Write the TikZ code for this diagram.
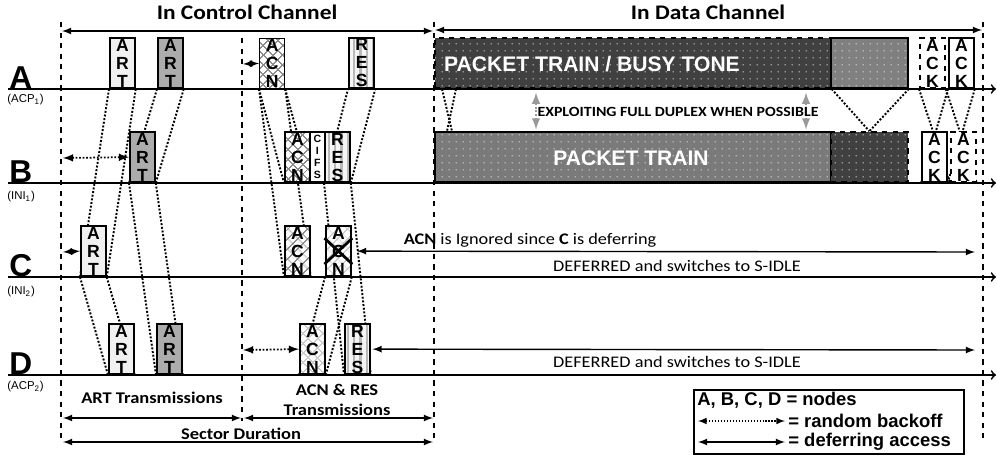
\documentclass[tikz,border=0pt]{standalone}
\usepackage{fontspec}
\setmainfont{Liberation Sans}
\newfontfamily\calibri[FakeStretch=1.13]{Carlito}
\usetikzlibrary{patterns.meta, backgrounds, calc}

\begin{document}
\begin{tikzpicture}[
    x=0.02cm, y=-0.02cm,
    slotbox/.style={draw, line width=1pt, minimum width=0.5cm, minimum height=1cm, inner sep=0pt,
        anchor=south west, align=center, font=\fontsize{10}{10.2}\selectfont\bfseries},
    artlight/.style={slotbox, fill=gray!12},
    artdark/.style={slotbox, fill=gray!65},
    acn/.style={slotbox, preaction={fill=white}, pattern={Hatch[angle=45, distance=4pt, line width=.7pt]}, pattern color=#1},
    acn/.default=gray!90,
    res/.style={slotbox, preaction={fill=gray!8}, pattern={Lines[angle=90, distance=3.6pt, line width=1.3pt]}, pattern color=gray!55},
    cifs/.style={slotbox, fill=white, minimum width=0.3cm, font=\fontsize{6}{6.8}\selectfont\bfseries},
    ack/.style={slotbox, fill=white},
    train/.style={draw, line width=1pt, inner sep=0pt, anchor=south west, minimum height=1cm,
        preaction={fill=#1}, pattern={Dots[distance=4pt, radius=.45pt]}, pattern color=white!85!gray},
    timeline/.style={line width=1pt, -to},
    sector/.style={dashed, line width=1pt},
    prop/.style={densely dotted, line width=1.1pt},
    backoff/.style={latex-latex, densely dotted, line width=1pt},
    defer/.style={latex-latex, line width=.8pt},
    duplex/.style={latex-latex, densely dotted, line width=1.2pt, gray!80},
    nodename/.style={font=\fontsize{18}{18}\selectfont\bfseries, inner sep=0pt, anchor=base west},
    role/.style={font=\fontsize{6.5}{7}\selectfont, inner sep=0pt, anchor=west},
    head/.style={font=\calibri\fontsize{11.8}{13}\selectfont\bfseries},
    span/.style={font=\calibri\fontsize{9.3}{11}\selectfont\bfseries},
    note/.style={font=\calibri\fontsize{9.2}{11}\selectfont},
    legendtxt/.style={font=\fontsize{10.5}{12}\selectfont\bfseries, inner sep=0pt, anchor=west}
]
    \useasboundingbox (0,0) rectangle (997,457);

    % --- CHANNEL HEADINGS ---
    \node[head] (ctl-title) at (247,12) {In Control Channel};
    \node[head] (data-title) at (708,12) {In Data Channel};
    \coordinate (ctl-l) at (62,31);
    \coordinate (ctl-r) at (433,31);
    \coordinate (data-l) at (435,30);
    \coordinate (data-r) at (982,30);
    \draw[defer] (ctl-l) -- (ctl-r);
    \draw[defer] (data-l) -- (data-r);

    % --- SECTOR BOUNDARIES ---
    \draw[sector] (61,22) -- (61,441);
    \draw[sector] (242,38) -- (242,421);
    \draw[sector] (434,22) -- (434,443);
    \draw[sector] (983,22) -- (983,440);

    % --- TIMELINES ---
    \foreach \r/\y in {A/89, B/183, C/277, D/375} {
        \coordinate (\r-start) at (8,\y);
        \coordinate (\r-end) at (996,\y);
        \draw[timeline] (\r-start) -- (\r-end);
    }
    \node[nodename] (A-name) at (9,88) {A};
    \node[nodename] (B-name) at (9,182) {B};
    \node[nodename] (C-name) at (9,276) {C};
    \node[nodename] (D-name) at (9,374) {D};
    \node[role] (A-role) at (7,100) {(ACP\textsubscript{1})};
    \node[role] (B-role) at (7,197) {(INI\textsubscript{1})};
    \node[role] (C-role) at (7,292) {(INI\textsubscript{2})};
    \node[role] (D-role) at (7,387) {(ACP\textsubscript{2})};

    % --- CONTROL CHANNEL FRAMES ---
    \node[artlight] (A-art1) at (109,89) {A\\R\\T};
    \node[artdark] (A-art2) at (157,89) {A\\R\\T};
    \node[acn] (A-acn) at (259,89) {A\\C\\N};
    \node[res] (A-res) at (348,89) {R\\E\\S};

    \node[artdark] (B-art) at (129,183) {A\\R\\T};
    \node[acn] (B-acn) at (284,183) {A\\C\\N};
    \node[cifs] (B-cifs) at (309,183) {C\\I\\F\\S};
    \node[res] (B-res) at (324,183) {R\\E\\S};

    \node[artlight] (C-art) at (80,277) {A\\R\\T};
    \node[acn] (C-acn) at (284,277) {A\\C\\N};
    \node[acn=gray!40] (C-acnx) at (325,277) {A\\C\\N};
    \draw[line width=1.6pt] (C-acnx.center) ++(-14,-13) -- ++(28,26)
        (C-acnx.center) ++(-14,13) -- ++(28,-26);

    \node[artlight] (D-art1) at (108,375) {A\\R\\T};
    \node[artdark] (D-art2) at (156,375) {A\\R\\T};
    \node[acn=gray!40] (D-acn) at (299,375) {A\\C\\N};
    \node[res] (D-res) at (344,375) {R\\E\\S};

    % --- DATA CHANNEL ---
    \node[train=black!75, dashed, minimum width=7.92cm] (A-train) at (434,89) {};
    \node[train=black!50, minimum width=1.54cm] (A-tail) at (830,89) {};
    \node[train=black!52, minimum width=7.92cm] (B-train) at (434,183) {};
    \node[train=black!75, dashed, minimum width=1.54cm] (B-tail) at (830,183) {};
    \node[font=\fontsize{12}{12}\selectfont\bfseries, text=white] (A-train-txt) at (592,64) {PACKET TRAIN / BUSY TONE};
    \node[font=\fontsize{12}{12}\selectfont\bfseries, text=white] (B-train-txt) at (631,158) {PACKET TRAIN};

    \node[ack, dashed] (A-ack1) at (919,89) {A\\C\\K};
    \node[ack] (A-ack2) at (948,89) {A\\C\\K};
    \node[ack] (B-ack1) at (921,183) {A\\C\\K};
    \node[ack, dashed] (B-ack2) at (950,183) {A\\C\\K};

    \coordinate (fd-l) at (536,112);
    \coordinate (fd-r) at (806,112);
    \draw[duplex, shorten <=2pt, shorten >=1pt] (fd-l |- A-train.south) -- (fd-l |- B-train.north);
    \draw[duplex, shorten <=2pt, shorten >=1pt] (fd-r |- A-train.south) -- (fd-r |- B-train.north);
    \node[font=\calibri\fontsize{8}{9}\selectfont\bfseries] (fd-txt) at (678,112) {EXPLOITING FULL DUPLEX WHEN POSSIBLE};

    % --- PROPAGATION (behind the frames) ---
    \begin{scope}[on background layer]
        \foreach \src/\dst in {A-art1/C-art, C-art/D-art1, A-art2/B-art, B-art/D-art2,
                A-acn/B-acn, A-acn/C-acn, D-acn/C-acnx, B-res/A-res, B-res/D-res,
                A-ack2/B-ack1, A-ack1/B-ack2} {
            \draw[prop] (\src.south west) -- (\dst.south west);
            \draw[prop] (\src.south east) -- (\dst.south east);
        }
        \draw[prop] ($(A-train.south west)+(8,0)$) -- ($(B-train.north west)+(18,0)$);
        \draw[prop] ($(A-train.south west)+(22,0)$) -- ($(B-train.north west)+(13,0)$);
        \draw[prop] (A-train.south east) -- (B-tail.north);
        \draw[prop] (A-tail.south east) -- (B-tail.north);
    \end{scope}

    % --- BACKOFF AND DEFERRING ---
    \coordinate (A-bo) at (243,64);
    \coordinate (B-bo) at (63,158);
    \coordinate (C-bo) at (63,252);
    \coordinate (D-bo) at (243,350);
    \draw[defer] (A-bo) -- (A-acn.west);
    \draw[backoff] (B-bo) -- (B-art.west);
    \draw[defer] (C-bo) -- (C-art.west);
    \draw[backoff] (D-bo) -- (D-acn.west);

    \coordinate (C-def) at (975,252);
    \coordinate (D-def) at (975,350);
    \draw[defer, shorten >=3pt] (C-def) -- (C-acnx.east);
    \draw[defer, shorten >=1pt] (D-def) -- (D-res.east);
    \node[note] (C-why) at (530,240) {\bfseries ACN\mdseries{} is Ignored since \bfseries C\mdseries{} is deferring};
    \node[note] (C-state) at (677,266) {DEFERRED and switches to S-IDLE};
    \node[note] (D-state) at (677,362) {DEFERRED and switches to S-IDLE};

    % --- DURATIONS ---
    \node[span] (art-txt) at (152,398) {ART Transmissions};
    \node[span] (acn-txt1) at (337,390) {ACN \& RES};
    \node[span] (acn-txt2) at (337,410) {Transmissions};
    \node[span] (sec-txt) at (241,434) {Sector Duration};
    \coordinate (art-l) at (63,418);
    \coordinate (art-r) at (241,418);
    \coordinate (acn-l) at (244,418);
    \coordinate (acn-r) at (433,418);
    \coordinate (sec-l) at (63,442);
    \coordinate (sec-r) at (433,442);
    \draw[defer] (art-l) -- (art-r);
    \draw[defer] (acn-l) -- (acn-r);
    \draw[defer] (sec-l) -- (sec-r);

    % --- LEGEND ---
    \node[draw, line width=1pt, minimum width=5.4cm, minimum height=1.28cm, anchor=north west, inner sep=0pt] (legend) at (693,389) {};
    \node[legendtxt] (leg-nodes) at (697,400) {A, B, C, D = nodes};
    \coordinate (leg-a1) at (698,421);
    \coordinate (leg-b1) at (785,421);
    \coordinate (leg-a2) at (698,442);
    \coordinate (leg-b2) at (785,442);
    \draw[backoff, line width=.7pt] (leg-a1) -- (leg-b1);
    \draw[defer] (leg-a2) -- (leg-b2);
    \node[legendtxt] (leg-backoff) at (788,421) {= random backoff};
    \node[legendtxt] (leg-defer) at (788,442) {= deferring access};

\end{tikzpicture}
\end{document}
